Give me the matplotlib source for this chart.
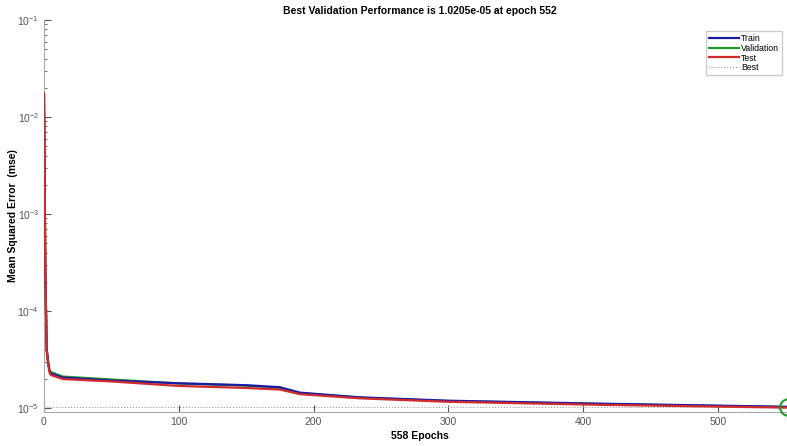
import matplotlib
matplotlib.use("Agg")
import matplotlib.pyplot as plt

plt.rcParams['font.family'] = ['Liberation Sans', 'DejaVu Sans']
plt.rcParams['mathtext.default'] = 'regular'

# training record, mse per epoch (sampled along each curve)
epochs = [0, 1, 2, 3, 4, 5, 14, 50, 100, 150, 175, 190, 234, 300, 412, 552, 558]
train_mse = [1.73e-2, 2.5e-4, 4.0e-5, 3.0e-5, 2.45e-5, 2.27e-5, 2.06e-5, 1.92e-5,
             1.80e-5, 1.72e-5, 1.64e-5, 1.44e-5, 1.29e-5, 1.19e-5, 1.11e-5,
             1.03e-5, 1.028e-5]
val_mse = [1.73e-2, 2.5e-4, 4.1e-5, 3.1e-5, 2.5e-5, 2.35e-5, 2.11e-5, 1.97e-5,
           1.79e-5, 1.70e-5, 1.61e-5, 1.42e-5, 1.28e-5, 1.18e-5, 1.10e-5,
           1.0205e-5, 1.0207e-5]
test_mse = [1.73e-2, 2.5e-4, 3.9e-5, 2.9e-5, 2.35e-5, 2.19e-5, 1.99e-5, 1.88e-5,
            1.69e-5, 1.61e-5, 1.55e-5, 1.39e-5, 1.26e-5, 1.16e-5, 1.08e-5,
            1.01e-5, 1.008e-5]
n_epochs = 558
best_epoch = 552
best_perf = 1.0205e-5

fig = plt.figure(figsize=(7.87, 4.46), dpi=100)
ax = fig.add_axes([0.0559, 0.0762, 0.9555, 0.879])

ax.plot(epochs, val_mse, color='#1f9a2a', lw=1.6, label='Validation', zorder=3)
ax.plot(epochs, train_mse, color='#1a1aa6', lw=1.6, label='Train', zorder=3)
ax.plot(epochs, test_mse, color='#d22b2b', lw=1.6, label='Test', zorder=3)
ax.axhline(best_perf, color='#9a9a9a', lw=0.8, ls=':', label='Best')
ax.plot([best_epoch], [best_perf], 'o', mfc='none', mec='#1f9a2a', ms=12, mew=1.5,
        zorder=4, clip_on=False)

ax.set_yscale('log')
ax.set_ylim(9.1e-6, 1e-1)
ax.set_xlim(0, n_epochs)
ax.set_xticks([0, 100, 200, 300, 400, 500])

for side in ['top', 'right']:
    ax.spines[side].set_visible(False)
for side in ['left', 'bottom']:
    ax.spines[side].set_color('#aaaaaa')
ax.tick_params(which='both', direction='in', colors='#555555', labelsize=7.5)
ax.tick_params(which='major', length=5)
ax.tick_params(which='minor', length=2.5)
ax.tick_params(axis='x', which='minor', bottom=False)

ax.set_title('Best Validation Performance is 1.0205e-05 at epoch 552',
             fontsize=7.5, fontweight='bold', pad=4)
ax.set_xlabel('%d Epochs' % n_epochs, fontsize=7.5, fontweight='bold', labelpad=3)
ax.set_ylabel('Mean Squared Error  (mse)', fontsize=7.5, fontweight='bold')
ax.yaxis.set_label_coords(-0.034, 0.5)

handles, labels = ax.get_legend_handles_labels()
order = [1, 0, 2, 3]
ax.legend([handles[i] for i in order], [labels[i] for i in order],
          loc='upper right', bbox_to_anchor=(0.999, 0.94),
          bbox_transform=fig.transFigure, fontsize=6.3, handlelength=3.4,
          handletextpad=0.3, labelspacing=0.1, borderpad=0.3,
          fancybox=False, edgecolor='#cccccc', framealpha=1)

fig.savefig('out.png', dpi=100)
